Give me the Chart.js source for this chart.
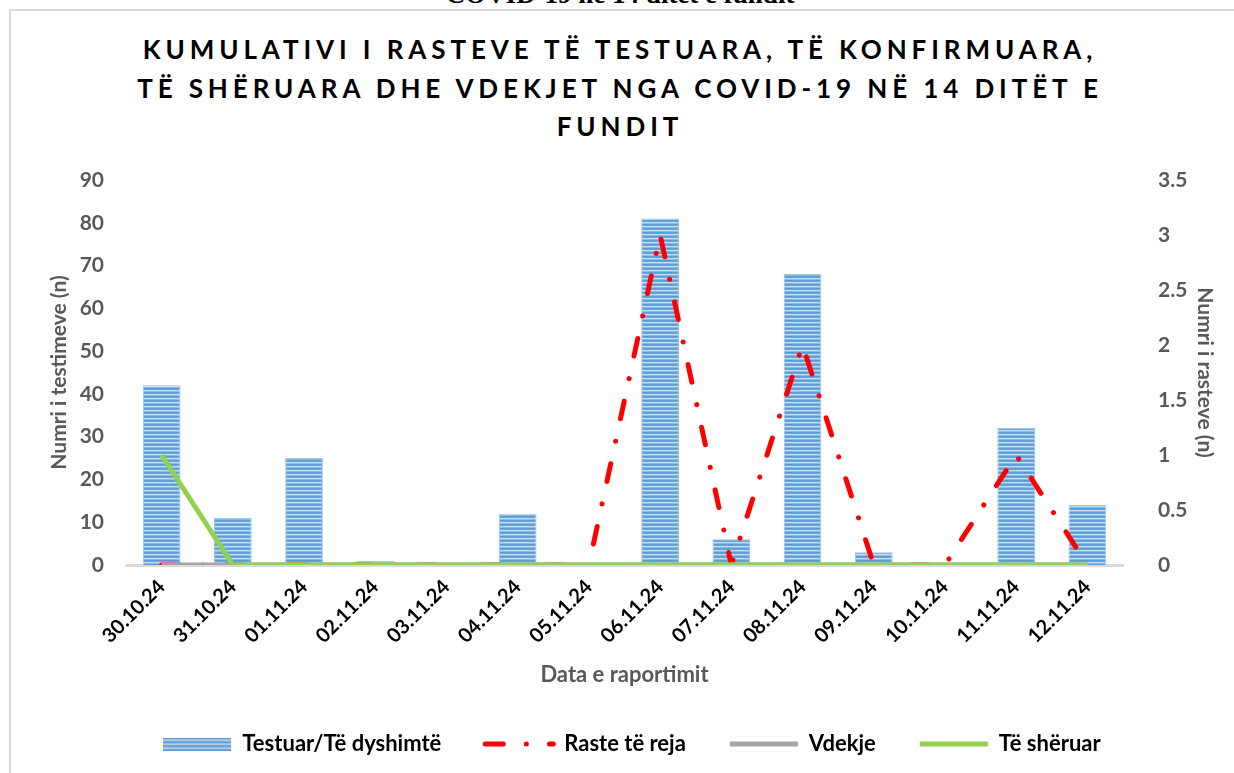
<!DOCTYPE html>
<html>
<head>
<meta charset="utf-8">
<script src="https://cdn.jsdelivr.net/npm/chart.js@4"></script>
<style>
  html, body { margin: 0; padding: 0; background: #fff; overflow: hidden; }
  #wrap { position: relative; width: 1234px; height: 773px; }
  #frame { position: absolute; left: 9px; top: 9px; width: 1240px; height: 780px; border: 2px solid #d9d9d9; }
  #above { position: absolute; left: 0; width: 1240px; top: -21px; text-align: center;
    font: bold 27px "Liberation Serif", "Times New Roman", serif; color: #000; }
  #title { position: absolute; left: 0; width: 1240px; top: 30px; text-align: center;
    font: bold 26px Lato, sans-serif; letter-spacing: 4.9px; line-height: 38.5px; color: #000; }
  canvas { position: absolute; left: 0; top: 0; }
</style>
</head>
<body>
<div id="wrap">
  <div id="above">COVID-19 në 14 ditët e fundit</div>
  <div id="frame"></div>
  <div id="title">KUMULATIVI I RASTEVE TË TESTUARA, TË KONFIRMUARA,<br>TË SHËRUARA DHE VDEKJET NGA COVID-19 NË 14 DITËT E<br>FUNDIT</div>
  <canvas id="chart" width="1234" height="773"></canvas>
</div>
<script>
// Data
const dates = ['30.10.24', '31.10.24', '01.11.24', '02.11.24', '03.11.24', '04.11.24', '05.11.24',
  '06.11.24', '07.11.24', '08.11.24', '09.11.24', '10.11.24', '11.11.24', '12.11.24'];
const tested = [42, 11, 25, 1, 0, 12, 0, 81, 6, 68, 3, 0, 32, 14];
const newCases = [0, 0, 0, 0, 0, 0, 0, 3, 0, 2, 0, 0, 1, 0];
const deaths = [0, 0, 0, 0, 0, 0, 0, 0, 0, 0, 0, 0, 0, 0];
const recovered = [1, 0, 0, 0, 0, 0, 0, 0, 0, 0, 0, 0, 0, 0];
const seriesNames = ['Testuar/Të dyshimtë', 'Raste të reja', 'Vdekje', 'Të shëruar'];

const tickFont = { family: 'Lato, sans-serif', size: 21, weight: 'bold' };
const legendFont = { family: 'Lato, sans-serif', size: 22, weight: 'bold' };
const gray = '#595959';

// Striped fill for the bars
function stripeCanvas(w, h) {
  const c = document.createElement('canvas');
  c.width = w; c.height = h;
  const g = c.getContext('2d');
  const rows = ['#5b9bd5', '#6aa5da', '#c4dcf1', '#8ebbe4'];
  for (let y = 0; y < h; y++) {
    g.fillStyle = rows[y % rows.length];
    g.fillRect(0, y, w, 1);
  }
  return c;
}
const ctx = document.getElementById('chart').getContext('2d');
const barPattern = ctx.createPattern(stripeCanvas(4, 4), 'repeat');
const barSwatch = stripeCanvas(68, 13);

const redDash = [18, 23, 0.1, 23];

const chart = new Chart(ctx, {
  data: {
    labels: dates,
    datasets: [
      {
        type: 'bar', label: seriesNames[0], data: tested, yAxisID: 'y',
        backgroundColor: barPattern, borderColor: '#9cc2e8', borderWidth: 1,
        barPercentage: 0.53, categoryPercentage: 1, order: 3
      },
      {
        type: 'line', label: seriesNames[1], data: newCases, yAxisID: 'y1',
        borderColor: '#ff0000', borderWidth: 5, borderDash: redDash, borderCapStyle: 'round',
        pointRadius: 0, tension: 0, order: 2
      },
      {
        type: 'line', label: seriesNames[2], data: deaths, yAxisID: 'y1',
        borderColor: '#a5a5a5', borderWidth: 5, pointRadius: 0, order: 1
      },
      {
        type: 'line', label: seriesNames[3], data: recovered, yAxisID: 'y1',
        borderColor: '#92d050', borderWidth: 5, pointRadius: 0, order: 0
      }
    ]
  },
  options: {
    responsive: false,
    animation: false,
    layout: { padding: { top: 180, left: 44, right: 14, bottom: 8 } },
    plugins: {
      tooltip: { enabled: false },
      legend: {
        position: 'bottom',
        labels: {
          usePointStyle: true,
          pointStyleWidth: 68,
          boxHeight: 13,
          padding: 44,
          color: '#000',
          font: legendFont,
          generateLabels: (c) => c.data.datasets.map((ds, i) => ({
            text: ds.label,
            datasetIndex: i,
            pointStyle: i === 0 ? barSwatch : 'line',
            strokeStyle: ds.borderColor,
            fillStyle: ds.borderColor,
            lineWidth: i === 0 ? 0 : 5,
            lineDash: i === 1 ? redDash : [],
            lineCap: i === 1 ? 'round' : 'butt',
            fontColor: '#000',
            hidden: false
          }))
        }
      }
    },
    scales: {
      x: {
        grid: { display: false },
        border: { display: true, color: '#d9d9d9', width: 3 },
        ticks: { color: '#000', font: { family: 'Lato, sans-serif', size: 20, weight: 'bold' },
          minRotation: 45, maxRotation: 45, padding: 2 },
        title: { display: true, text: 'Data e raportimit', color: gray, font: legendFont, padding: { top: 4, bottom: 1 } },
        afterFit: (s) => { s.height = 124; }
      },
      y: {
        position: 'left', min: 0, max: 90,
        grid: { display: false }, border: { display: false },
        ticks: { stepSize: 10, color: gray, font: tickFont, padding: 14 },
        title: { display: true, text: 'Numri i testimeve (n)', color: gray, font: tickFont, padding: { top: 3, bottom: 0 } },
        afterFit: (s) => { s.width = 82; }
      },
      y1: {
        position: 'right', min: 0, max: 3.5,
        grid: { display: false }, border: { display: false },
        ticks: { stepSize: 0.5, color: gray, font: tickFont, padding: 27, callback: (v) => String(v) },
        title: { display: true, text: 'Numri i rasteve (n)', color: gray, font: tickFont, padding: { top: 3, bottom: 0 } },
        afterFit: (s) => { s.width = 97; }
      }
    }
  }
});
</script>
</body>
</html>
